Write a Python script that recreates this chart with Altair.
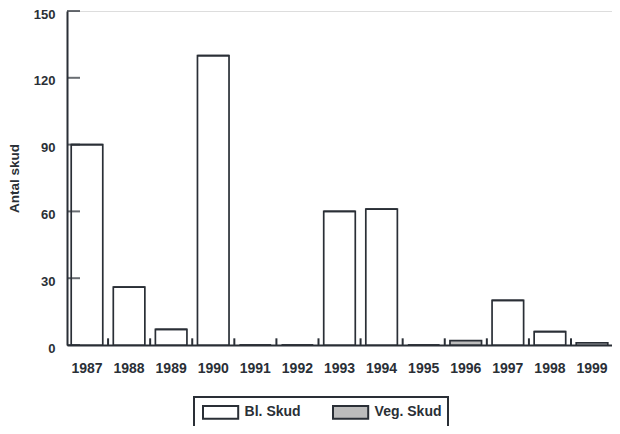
import altair as alt
import pandas as pd

years = ["1987", "1988", "1989", "1990", "1991", "1992", "1993",
         "1994", "1995", "1996", "1997", "1998", "1999"]
bl_skud = [90, 26, 7, 130, 0, 0, 60, 61, 0, 0, 20, 6, 1]
veg_skud = [0, 0, 0, 0, 0, 0, 0, 0, 0, 2, 0, 0, 0]
y_ticks = [0, 30, 60, 90, 120, 150]

rows = []
for y, b, v in zip(years, bl_skud, veg_skud):
    rows.append({"year": y, "type": "Bl. Skud", "value": b})
    rows.append({"year": y, "type": "Veg. Skud", "value": v})
df = pd.DataFrame(rows)
df_years = pd.DataFrame({"year": years, "lo": [0] * len(years), "hi": [3] * len(years)})
df_yt = pd.DataFrame({"t": y_ticks})

FONT = "Liberation Sans"
INK = "#2a2f36"

xscale = alt.Scale(domain=years, paddingInner=0.25, paddingOuter=0.1)
yscale = alt.Scale(domain=[0, 150], nice=False, zero=True)

bars = alt.Chart(df).mark_bar(stroke=INK, strokeWidth=1.7).encode(
    x=alt.X("year:O", scale=xscale, sort=years,
            axis=alt.Axis(title=None, ticks=False, labelAngle=0, labelPadding=16,
                          domainColor=INK, domainWidth=2, labelColor=INK,
                          labelFont=FONT, labelFontSize=14, labelFontWeight="bold")),
    y=alt.Y("value:Q", scale=yscale, stack="zero",
            axis=alt.Axis(title="Antal skud", values=y_ticks, ticks=False, grid=False,
                          labelPadding=12, labelOffset=3, domainColor=INK, domainWidth=2,
                          labelColor=INK, labelFont=FONT, labelFontSize=13,
                          labelFontWeight="bold", titleFont=FONT, titleFontSize=13.5,
                          titleFontWeight="bold", titleColor=INK, titlePadding=12)),
    fill=alt.Fill("type:N",
                  scale=alt.Scale(domain=["Bl. Skud", "Veg. Skud"], range=["white", "#bcbcbc"]),
                  legend=alt.Legend(title=None, orient="none", direction="horizontal",
                                    legendX=127, legendY=386,
                                    symbolType="M-2.2,-0.8L2.2,-0.8L2.2,0.8L-2.2,0.8Z",
                                    symbolSize=256, symbolStrokeColor=INK,
                                    symbolStrokeWidth=2, symbolOffset=11.6,
                                    labelOffset=15, labelFont=FONT,
                                    labelFontSize=14, labelFontWeight="bold",
                                    labelColor=INK, columnPadding=28, padding=6,
                                    strokeColor=INK)),
    order=alt.Order("type:N"),
)

xticks = alt.Chart(df_years).mark_rule(xOffset=5.3, color=INK, strokeWidth=2).encode(
    x=alt.X("year:O", scale=xscale, sort=years, bandPosition=1),
    y=alt.Y("lo:Q", scale=yscale),
    y2="hi:Q",
)

yticks = alt.Chart(df_yt).mark_tick(orient="horizontal", color=INK, size=13, thickness=2).encode(
    y=alt.Y("t:Q", scale=yscale),
    x=alt.value(6.5),
)

chart = alt.layer(bars, xticks, yticks).properties(
    width=545, height=334,
    autosize=alt.AutoSizeParams(type="none"),
    padding={"left": 59, "top": 3, "right": 0, "bottom": 81},
).configure_view(stroke=None).configure(background="white").configure_legend(strokeWidth=2)

chart.save("out.html", embed_options={"renderer": "svg", "actions": False})
